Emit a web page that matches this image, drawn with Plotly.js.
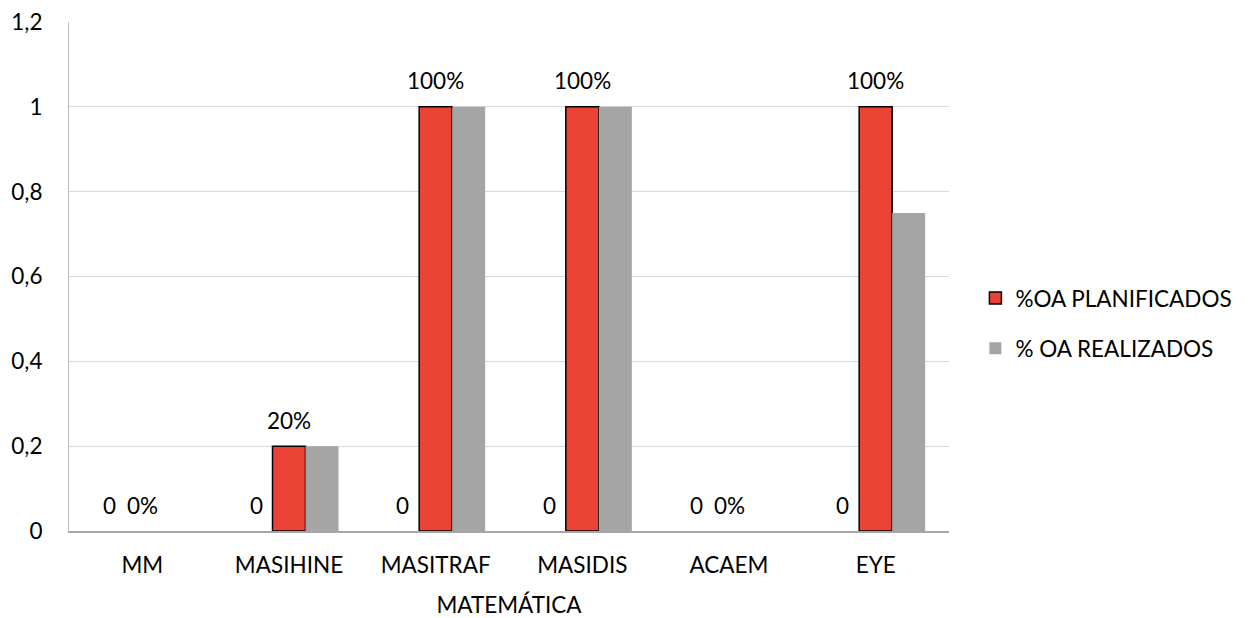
<!DOCTYPE html>
<html>
<head>
<meta charset="utf-8">
<script src="https://cdn.plot.ly/plotly-3.0.1.min.js"></script>
<style>html,body{margin:0;padding:0;background:#fff;}#chart{width:1250px;height:618px;}</style>
</head>
<body>
<div id="chart"></div>
<script>
const categories = ["MM", "MASIHINE", "MASITRAF", "MASIDIS", "ACAEM", "EYE"];
const hiddenValues = [0, 0, 0, 0, 0, 0];
const hiddenLabels = ["0", "0", "0", "0", "0", "0"];
const planificados = [0, 0.2, 1, 1, 0, 1];
const planificadosLabels = ["0%", "20%", "100%", "100%", "0%", "100%"];
const realizados = [0, 0.2, 1, 1, 0, 0.75];
const yTicks = [0, 0.2, 0.4, 0.6, 0.8, 1, 1.2];

const FONT = "Lato, 'Open Sans', sans-serif";
const FS = 22.5;

// zero-height bars are left undrawn (as in the original), so their outline does not show
const nz = arr => arr.map(v => (v === 0 ? null : v));

const traces = [
  {type: "bar", x: categories, y: hiddenValues, name: "", showlegend: false,
   legendgroup: "h", marker: {color: "rgba(0,0,0,0)"}, hoverinfo: "skip"},
  {type: "bar", x: categories, y: nz(planificados), name: "%OA PLANIFICADOS", legendgroup: "p",
   marker: {color: "#EA4335", line: {color: "#000000", width: 1.5}}},
  {type: "bar", x: categories, y: nz(realizados), name: "% OA REALIZADOS", legendgroup: "r",
   marker: {color: "#A5A5A5", line: {width: 0}}}
];

const annotations = [];
categories.forEach((c, i) => {
  annotations.push({x: c, y: hiddenValues[i], text: hiddenLabels[i], showarrow: false,
    xref: "x", yref: "y", xshift: -33, yshift: 26, yanchor: "middle",
    font: {family: FONT, size: FS, color: "#000"}});
  annotations.push({x: c, y: planificados[i], text: planificadosLabels[i], showarrow: false,
    xref: "x", yref: "y", xshift: 0, yshift: 26, yanchor: "middle",
    font: {family: FONT, size: FS, color: "#000"}});
});

const layout = {
  width: 1250, height: 618,
  margin: {l: 69, r: 301, t: 22, b: 87},
  paper_bgcolor: "#fff", plot_bgcolor: "#fff",
  font: {family: FONT, size: FS, color: "#000"},
  separators: ",.",
  barmode: "group", bargap: 0.325, bargroupgap: 0,
  xaxis: {
    title: {text: "MATEMÁTICA", font: {family: FONT, size: FS, color: "#000"}, standoff: 22},
    showline: true, linecolor: "#A6A6A6", linewidth: 2, layer: "above traces",
    showgrid: false, ticks: "", tickfont: {family: FONT, size: FS, color: "#000"},
    ticklabelstandoff: 13
  },
  yaxis: {
    range: [0, 1.2], tickvals: yTicks,
    showgrid: true, gridcolor: "#D9D9D9", gridwidth: 1,
    zeroline: false, showline: true, linecolor: "#BFBFBF", linewidth: 1,
    ticks: "", tickfont: {family: FONT, size: FS, color: "#000"},
    ticklabelstandoff: 21
  },
  legend: {
    x: 1.03, xanchor: "left", y: 0.408, yanchor: "middle",
    font: {family: FONT, size: FS, color: "#000"},
    traceorder: "grouped", tracegroupgap: 18, itemwidth: 30, bgcolor: "rgba(0,0,0,0)"
  },
  annotations: annotations,
  showlegend: true
};

Plotly.newPlot("chart", traces, layout, {displayModeBar: false, staticPlot: true});
</script>
</body>
</html>
